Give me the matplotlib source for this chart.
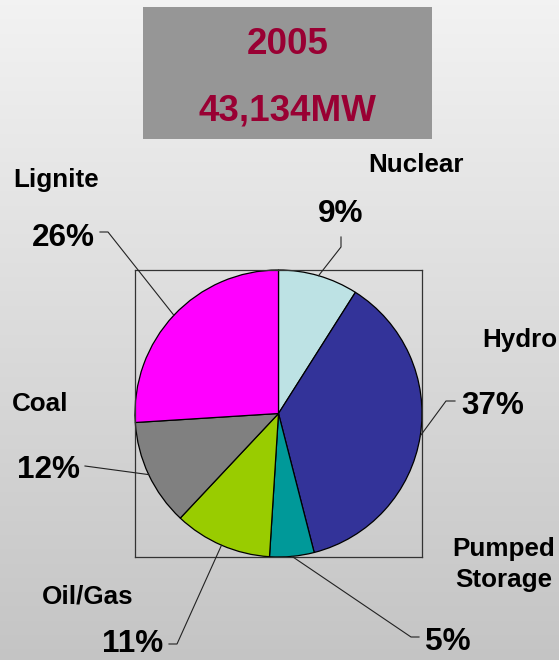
import numpy as np
import matplotlib.pyplot as plt
from matplotlib.patches import Rectangle
from matplotlib.lines import Line2D

plt.rcParams['font.family'] = ['Liberation Sans', 'DejaVu Sans']
plt.rcParams['font.weight'] = 'bold'

# data
year = "2005"
capacity = "43,134MW"
categories = ["Nuclear", "Hydro", "Pumped\nStorage", "Oil/Gas", "Coal", "Lignite"]
shares = [9, 37, 5, 11, 12, 26]

# style
slice_colors = ["#BDE2E4", "#333399", "#009999", "#99CC00", "#808080", "#FF00FF"]
title_color = "#990033"

# layout, in pixels of the 559x660 picture (x from left, y from top)
W, H = 559, 660
name_pos = [(368, 172), (482, 347), (504, 556), (42, 604), (12, 411), (13, 187)]
pct_pos = [(318, 222), (461, 414), (425, 650), (102, 652), (17, 478), (32, 246)]
# elbow points of each leader line, after the point on the pie edge
leader_pts = [
    [(341, 247), (341, 237)],
    [(446, 401), (455, 401)],
    [(411, 637), (419, 637)],
    [(177, 644), (169, 644)],
    [(85, 466)],
    [(108, 232), (100, 232)],
]


def fxy(x, y):
    return x / W, 1 - y / H


fig = plt.figure(figsize=(W / 100, H / 100), dpi=100)

# background gradient
bg = fig.add_axes([0, 0, 1, 1])
grad = np.linspace(0, 1, 256).reshape(-1, 1)
top, bottom = np.array([0.95, 0.95, 0.95]), np.array([0.77, 0.77, 0.77])
img = top + (bottom - top) * grad[:, :, None]
bg.imshow(np.repeat(img, 2, axis=1), aspect='auto', extent=[0, 1, 0, 1])
bg.axis('off')

# title box
x0, y0 = fxy(143, 139)
x1, y1 = fxy(432, 7)
fig.add_artist(Rectangle((x0, y0), x1 - x0, y1 - y0, transform=fig.transFigure,
                         facecolor="#969696", edgecolor="none"))
fig.text(*fxy(287.5, 54), year, ha='center', va='baseline', fontsize=26.5, color=title_color)
fig.text(*fxy(287.5, 120), capacity, ha='center', va='baseline', fontsize=26.5, color=title_color)

# pie
bx0, by0 = fxy(135, 557)
bx1, by1 = fxy(422, 270)
ax = fig.add_axes([bx0, by0, bx1 - bx0, by1 - by0])
wedges, _ = ax.pie(shares, colors=slice_colors, startangle=90, counterclock=False,
                   frame=True, wedgeprops=dict(edgecolor='black', linewidth=0.9))
ax.set_xlim(-1, 1)
ax.set_ylim(-1, 1)
ax.set_xticks([])
ax.set_yticks([])
ax.set_facecolor('none')
for s in ax.spines.values():
    s.set_color('#333333')
    s.set_linewidth(0.9)

fig.canvas.draw()
to_fig = ax.transData + fig.transFigure.inverted()

for w, name, v, npos, ppos, pts in zip(wedges, categories, shares, name_pos, pct_pos, leader_pts):
    mid = np.deg2rad((w.theta1 + w.theta2) / 2)
    ex, ey = to_fig.transform((np.cos(mid), np.sin(mid)))
    xs = [ex] + [fxy(*p)[0] for p in pts]
    ys = [ey] + [fxy(*p)[1] for p in pts]
    fig.add_artist(Line2D(xs, ys, transform=fig.transFigure, color='#222222', lw=0.8))

    if "\n" in name:
        first, second = name.split("\n")
        fig.text(*fxy(npos[0], npos[1]), first, ha='center', va='baseline', fontsize=18.7)
        fig.text(*fxy(npos[0], npos[1] + 31), second, ha='center', va='baseline', fontsize=18.7)
    else:
        fig.text(*fxy(*npos), name, ha='left', va='baseline', fontsize=18.7)
    fig.text(*fxy(*ppos), f"{v}%", ha='left', va='baseline', fontsize=22.7)

plt.savefig("out.png", dpi=100)
